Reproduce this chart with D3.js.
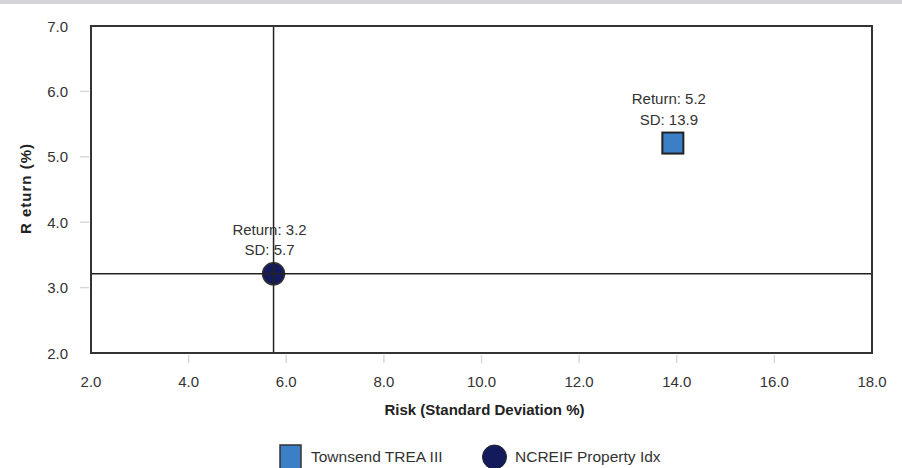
<!DOCTYPE html>
<html>
<head>
<meta charset="utf-8">
<script src="https://cdn.jsdelivr.net/npm/d3@7"></script>
<style>
  body { margin: 0; background: #fff; }
  svg { display: block; font-family: "Liberation Sans", Arial, sans-serif; }
</style>
</head>
<body>
<svg id="chart" width="902" height="468"></svg>
<script>
// data
var seriesNames = ['Townsend TREA III', 'NCREIF Property Idx'];
var riskValues = [13.92, 5.74];
var returnValues = [5.21, 3.21];
var riskLabels = ['13.9', '5.7'];
var returnLabels = ['5.2', '3.2'];
var seriesColors = ['#3b7fc7', '#141b5c'];
var seriesShapes = ['square', 'circle'];
var xTicks = [2, 4, 6, 8, 10, 12, 14, 16, 18];
var yTicks = [2, 3, 4, 5, 6, 7];

var svg = d3.select('#chart');
var margin = {top: 26, right: 30, bottom: 115, left: 91};
var width = 902 - margin.left - margin.right;
var height = 468 - margin.top - margin.bottom;

// grey strip at top
svg.append('rect').attr('x', 0).attr('y', 0).attr('width', 902).attr('height', 4).attr('fill', '#d4d4d6');

var x = d3.scaleLinear().domain([2, 18]).range([0, width]);
var y = d3.scaleLinear().domain([2, 7]).range([height, 0]);

var g = svg.append('g').attr('transform', 'translate(' + margin.left + ',' + margin.top + ')');

// tick marks (interior only)
g.selectAll('.ytick').data(yTicks.slice(1, -1)).enter().append('line')
  .attr('x1', -11).attr('x2', -2)
  .attr('y1', function(d){ return y(d); }).attr('y2', function(d){ return y(d); })
  .attr('stroke', '#d9d9d9').attr('stroke-width', 1.5);
g.selectAll('.xtick').data(xTicks.slice(1, -1)).enter().append('line')
  .attr('y1', height + 2).attr('y2', height + 10)
  .attr('x1', function(d){ return x(d); }).attr('x2', function(d){ return x(d); })
  .attr('stroke', '#d9d9d9').attr('stroke-width', 1.5);

// tick labels
g.selectAll('.ylab').data(yTicks).enter().append('text')
  .attr('x', -23).attr('y', function(d){ return y(d) + 5.5; })
  .attr('text-anchor', 'end').attr('font-size', 15).attr('fill', '#333')
  .text(function(d){ return d3.format('.1f')(d); });
g.selectAll('.xlab').data(xTicks).enter().append('text')
  .attr('x', function(d){ return x(d); }).attr('y', height + 34)
  .attr('text-anchor', 'middle').attr('font-size', 15).attr('fill', '#333')
  .text(function(d){ return d3.format('.1f')(d); });

// axis titles
g.append('text').attr('x', width / 2 + 3).attr('y', height + 62)
  .attr('text-anchor', 'middle').attr('font-size', 15).attr('font-weight', 'bold').attr('fill', '#222')
  .text('Risk (Standard Deviation %)');
svg.append('text').attr('transform', 'translate(31,' + (margin.top + height / 2 - 1) + ') rotate(-90)')
  .attr('text-anchor', 'middle').attr('font-size', 15).attr('font-weight', 'bold').attr('fill', '#222')
  .attr('letter-spacing', 1)
  .text('R eturn (%)');

// points
var pts = d3.range(seriesNames.length);
pts.forEach(function(i){
  var px = x(riskValues[i]), py = y(returnValues[i]);
  if (seriesShapes[i] == 'square') {
    g.append('rect').attr('x', px - 10.5).attr('y', py - 10.5).attr('width', 21).attr('height', 21)
      .attr('fill', seriesColors[i]).attr('stroke', '#222').attr('stroke-width', 2);
  } else {
    g.append('circle').attr('cx', px).attr('cy', py).attr('r', 11)
      .attr('fill', seriesColors[i]).attr('stroke', '#333').attr('stroke-width', 1.5);
  }
  g.append('text').attr('x', px - 4).attr('y', py - 39)
    .attr('text-anchor', 'middle').attr('font-size', 15).attr('fill', '#333')
    .text('Return: ' + returnLabels[i]);
  g.append('text').attr('x', px - 4).attr('y', py - 18.5)
    .attr('text-anchor', 'middle').attr('font-size', 15).attr('fill', '#333')
    .text('SD: ' + riskLabels[i]);
});

// crosshair at benchmark
var bi = 1;
g.append('line').attr('x1', x(riskValues[bi])).attr('x2', x(riskValues[bi]))
  .attr('y1', 0).attr('y2', height).attr('stroke', '#222').attr('stroke-width', 1.5);
g.append('line').attr('x1', 0).attr('x2', width)
  .attr('y1', y(returnValues[bi])).attr('y2', y(returnValues[bi])).attr('stroke', '#222').attr('stroke-width', 1.5);

// frame
g.append('rect').attr('x', 0).attr('y', 0).attr('width', width).attr('height', height)
  .attr('fill', 'none').attr('stroke', '#333').attr('stroke-width', 2);

// legend
var legend = svg.append('g');
var legX = [280, 482];
pts.forEach(function(i){
  if (seriesShapes[i] == 'square') {
    legend.append('rect').attr('x', legX[i]).attr('y', 445).attr('width', 21).attr('height', 24)
      .attr('fill', seriesColors[i]).attr('stroke', '#333').attr('stroke-width', 1.5);
  } else {
    legend.append('circle').attr('cx', legX[i] + 12.5).attr('cy', 457).attr('r', 12)
      .attr('fill', seriesColors[i]).attr('stroke', '#222').attr('stroke-width', 1);
  }
  legend.append('text').attr('x', legX[i] + (i == 0 ? 31 : 33)).attr('y', 462)
    .attr('font-size', 15.5).attr('fill', '#333').text(seriesNames[i]);
});
</script>
</body>
</html>
